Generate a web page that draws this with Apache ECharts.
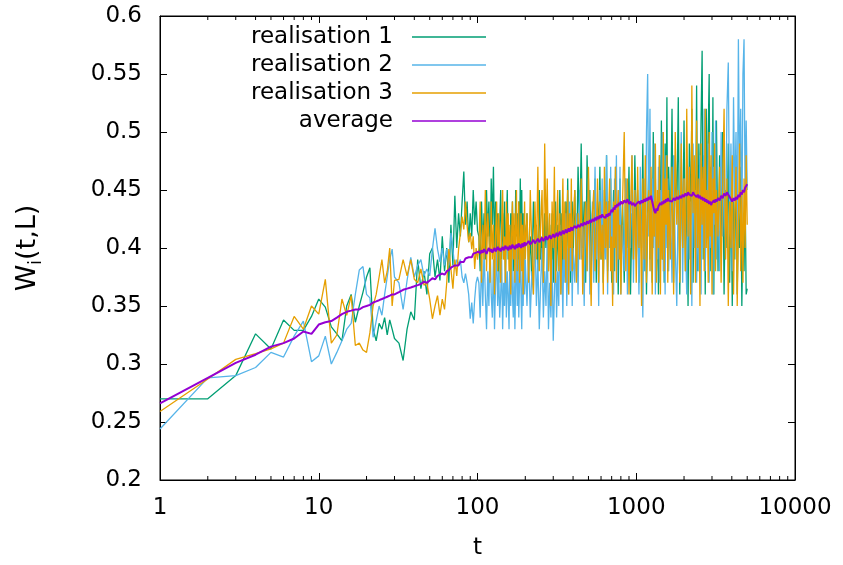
<!DOCTYPE html>
<html>
<head>
<meta charset="utf-8">
<script src="https://cdn.jsdelivr.net/npm/echarts@6/dist/echarts.min.js"></script>
<style>html,body{margin:0;padding:0;background:#fff}#c{width:843px;height:565px}</style>
</head>
<body>
<div id="c"></div>
<script>
// ---- data ----
const tValues = [
1,2,3,4,5,6,7,8,9,10,11,12,13,14,15,16,17,18,19,20,21,22,23,24,25,26,27,28,29,30,
32,34,36,38,40,42,44,46,48,50,52,54,56,58,60,62,64,66,68,70,72,74,76,78,80,82,84,86,88,90,92,94,96,98,100,
102,104,106,108,110,112,114,116,118,120,122,124,126,128,130,132,134,136,138,140,
142,144,146,148,150,152,154,156,158,160,162,164,166,168,170,172,174,176,178,180,
182,184,186,188,190,192,194,196,198,200,
205,210,215,220,225,230,235,240,245,250,255,260,265,270,275,280,285,290,295,300,
305,310,315,320,325,330,335,340,345,350,355,360,365,370,375,380,385,390,395,400,
410,420,430,440,450,460,470,480,490,500,510,520,530,540,550,560,570,580,590,600,
610,620,630,640,650,660,670,680,690,700,710,720,730,740,750,760,770,780,790,800,
820,840,860,880,900,920,940,960,980,1000,1020,1040,1060,1080,1100,1120,1140,1160,1180,1200,
1220,1240,1260,1280,1300,1320,1340,1360,1380,1400,1420,1440,1460,1480,1500,1520,1540,1560,1580,1600,
1640,1680,1720,1760,1800,1840,1880,1920,1960,2000,2040,2080,2120,2160,2200,2240,2280,2320,2360,2400,
2440,2480,2520,2560,2600,2640,2680,2720,2760,2800,2840,2880,2920,2960,3000,3040,3080,3120,3160,3200,
3275,3350,3425,3500,3575,3650,3725,3800,3875,3950,4025,4100,4175,4250,4325,4400,4475,4550,4625,4700,
4775,4850,4925,5000
];

const realisation1 = [
0.270,0.270,0.290,0.326,0.313,0.338,0.329,0.329,0.341,0.356,
0.349,0.332,0.326,0.320,0.350,0.360,0.336,0.350,0.362,0.375,
0.383,0.330,0.320,0.335,0.330,0.340,0.325,0.338,0.330,0.322,
0.318,0.303,0.330,0.345,0.338,0.390,0.365,0.380,0.360,0.395,0.400,0.375,0.390,0.372,0.410,0.380,0.400,0.370,0.420,0.385,0.445,0.400,0.430,0.410,0.440,0.466,0.420,0.440,0.405,0.430,0.410,0.450,0.420,0.440,0.415,
0.41,0.38,0.44,0.40,0.43,0.39,0.45,0.41,0.44,0.38,
0.46,0.42,0.47,0.40,0.44,0.39,0.43,0.37,0.42,0.45,
0.39,0.43,0.40,0.44,0.38,0.42,0.45,0.39,0.41,0.37,
0.43,0.40,0.44,0.38,0.42,0.39,0.45,0.41,0.43,0.38,
0.44,0.40,0.46,0.41,0.45,0.39,0.43,0.38,0.42,0.40,
0.43,0.38,0.41,0.37,0.44,0.40,0.42,0.38,0.45,0.39,
0.41,0.37,0.43,0.40,0.44,0.38,0.42,0.39,0.43,0.37,
0.41,0.44,0.38,0.42,0.39,0.45,0.40,0.43,0.37,0.42,
0.38,0.44,0.40,0.46,0.39,0.43,0.37,0.41,0.44,0.39,
0.45,0.38,0.47,0.41,0.49,0.40,0.44,0.37,0.48,0.42,
0.45,0.38,0.43,0.40,0.46,0.37,0.44,0.41,0.47,0.39,
0.43,0.37,0.45,0.40,0.48,0.38,0.44,0.41,0.46,0.37,
0.42,0.45,0.38,0.47,0.40,0.44,0.36,0.43,0.46,0.39,
0.44,0.37,0.46,0.40,0.47,0.36,0.43,0.39,0.48,0.41,
0.45,0.37,0.44,0.40,0.49,0.38,0.46,0.36,0.43,0.47,
0.39,0.45,0.37,0.50,0.41,0.46,0.38,0.44,0.36,0.48,
0.40,0.51,0.39,0.46,0.37,0.49,0.42,0.53,0.38,0.47,
0.41,0.52,0.37,0.48,0.43,0.53,0.36,0.47,0.40,0.51,
0.38,0.46,0.35,0.49,0.42,0.52,0.37,0.47,0.40,0.54,
0.38,0.49,0.43,0.51,0.57,0.39,0.48,0.36,0.52,0.42,
0.50,0.55,0.38,0.47,0.41,0.53,0.36,0.49,0.43,0.51,
0.38,0.48,0.41,0.50,0.36,0.45,0.40,0.49,0.37,0.46,
0.35,0.44,0.39,0.48,0.36,0.43,0.40,0.47,0.35,0.42,
0.38,0.45,0.36,0.365
];

const realisation2 = [
0.244,0.288,0.290,0.297,0.310,0.306,0.324,0.337,0.302,0.307,
0.324,0.300,0.310,0.320,0.330,0.335,0.360,0.381,0.384,0.360,
0.357,0.323,0.337,0.350,0.342,0.360,0.375,0.390,0.399,0.375,
0.370,0.347,0.372,0.392,0.375,0.385,0.390,0.376,0.382,0.376,0.399,0.417,0.399,0.388,0.400,0.385,0.399,0.385,0.413,0.399,0.382,0.390,0.386,0.390,0.375,0.370,0.378,0.370,0.360,0.339,0.353,0.335,0.356,0.370,0.375,
0.37,0.34,0.39,0.35,0.40,0.36,0.33,0.38,0.35,0.41,
0.36,0.34,0.39,0.33,0.37,0.40,0.35,0.38,0.34,0.36,
0.39,0.33,0.37,0.35,0.40,0.34,0.38,0.36,0.33,0.39,
0.35,0.41,0.36,0.34,0.38,0.33,0.37,0.40,0.35,0.39,
0.34,0.37,0.41,0.36,0.33,0.38,0.35,0.40,0.36,0.39,
0.35,0.40,0.34,0.38,0.36,0.42,0.35,0.39,0.33,0.37,
0.40,0.34,0.38,0.35,0.41,0.33,0.37,0.34,0.39,0.32,
0.36,0.40,0.34,0.38,0.35,0.42,0.36,0.39,0.34,0.41,
0.37,0.43,0.35,0.40,0.36,0.44,0.38,0.42,0.35,0.40,
0.37,0.43,0.36,0.45,0.39,0.42,0.35,0.44,0.38,0.46,
0.36,0.41,0.44,0.37,0.47,0.39,0.43,0.35,0.45,0.40,
0.46,0.37,0.42,0.39,0.48,0.36,0.44,0.40,0.47,0.38,
0.43,0.36,0.46,0.41,0.48,0.37,0.44,0.39,0.47,0.36,
0.42,0.38,0.46,0.36,0.44,0.40,0.48,0.37,0.45,0.39,
0.43,0.36,0.47,0.40,0.34,0.44,0.38,0.50,0.55,0.41,
0.52,0.38,0.46,0.40,0.49,0.36,0.44,0.39,0.47,0.37,
0.45,0.41,0.50,0.38,0.44,0.36,0.48,0.40,0.46,0.38,
0.44,0.37,0.48,0.40,0.35,0.45,0.39,0.50,0.37,0.46,
0.41,0.36,0.47,0.39,0.44,0.35,0.49,0.40,0.45,0.37,
0.43,0.38,0.48,0.36,0.46,0.40,0.52,0.38,0.45,0.41,
0.49,0.37,0.44,0.40,0.50,0.36,0.47,0.42,0.51,0.39,
0.44,0.38,0.50,0.41,0.47,0.39,0.52,0.56,0.42,0.49,
0.38,0.53,0.44,0.50,0.40,0.58,0.46,0.52,0.41,0.55,
0.58,0.44,0.51,0.45
];

const realisation3 = [
0.259,0.287,0.304,0.309,0.313,0.318,0.341,0.330,0.350,0.343,
0.373,0.318,0.325,0.356,0.342,0.359,0.316,0.318,0.312,0.310,
0.327,0.350,0.360,0.375,0.390,0.370,0.380,0.400,0.350,0.372,
0.373,0.390,0.376,0.390,0.373,0.370,0.382,0.368,0.370,0.356,0.339,0.350,0.359,0.342,0.356,0.347,0.370,0.399,0.382,0.365,0.390,0.376,0.399,0.413,0.427,0.416,0.440,0.419,0.405,0.413,0.399,0.410,0.382,0.400,0.390,
0.40,0.44,0.37,0.42,0.39,0.45,0.38,0.43,0.41,0.37,
0.44,0.39,0.42,0.36,0.41,0.44,0.38,0.43,0.40,0.37,
0.42,0.45,0.39,0.41,0.37,0.44,0.40,0.43,0.38,0.42,
0.36,0.41,0.44,0.39,0.43,0.37,0.42,0.45,0.38,0.41,
0.44,0.37,0.40,0.43,0.38,0.42,0.36,0.41,0.44,0.39,
0.43,0.37,0.45,0.40,0.36,0.44,0.39,0.47,0.38,0.42,
0.45,0.37,0.49,0.41,0.46,0.38,0.43,0.35,0.44,0.40,
0.47,0.37,0.42,0.45,0.38,0.43,0.36,0.41,0.46,0.39,
0.44,0.37,0.42,0.45,0.36,0.43,0.40,0.46,0.38,0.42,
0.45,0.37,0.43,0.39,0.46,0.36,0.42,0.44,0.38,0.47,
0.40,0.35,0.43,0.45,0.38,0.41,0.46,0.37,0.44,0.39,
0.42,0.36,0.47,0.40,0.44,0.37,0.43,0.46,0.38,0.41,
0.35,0.44,0.40,0.47,0.37,0.43,0.45,0.39,0.42,0.36,
0.44,0.50,0.38,0.46,0.36,0.43,0.48,0.39,0.45,0.37,
0.47,0.40,0.44,0.35,0.46,0.39,0.48,0.37,0.43,0.45,
0.38,0.47,0.36,0.44,0.41,0.49,0.37,0.45,0.40,0.48,
0.36,0.44,0.39,0.50,0.38,0.46,0.42,0.48,0.37,0.45,
0.39,0.47,0.36,0.50,0.42,0.45,0.37,0.49,0.40,0.46,
0.38,0.52,0.41,0.47,0.36,0.54,0.43,0.48,0.37,0.51,
0.40,0.46,0.35,0.49,0.42,0.47,0.38,0.52,0.40,0.45,
0.37,0.50,0.41,0.48,0.36,0.46,0.43,0.49,0.38,0.45,
0.41,0.47,0.37,0.45,0.52,0.39,0.46,0.35,0.44,0.40,
0.48,0.36,0.43,0.47,0.35,0.42,0.49,0.38,0.45,0.37,
0.46,0.40,0.48,0.42
];

const average = [
0.266,0.288,0.301,0.308,0.315,0.318,0.322,0.328,0.326,0.334,
0.336,0.337,0.340,0.343,0.345,0.346,0.347,0.347,0.349,0.350,
0.351,0.353,0.354,0.355,0.356,0.357,0.358,0.359,0.360,0.360,
0.362,0.364,0.365,0.366,0.367,0.368,0.369,0.371,0.370,0.372,0.374,0.373,0.376,0.377,0.378,0.377,0.380,0.381,0.383,0.382,0.385,0.386,0.385,0.388,0.389,0.388,0.391,0.390,0.392,0.393,0.392,0.395,0.394,0.396,0.395,
0.397,0.395,0.398,0.396,0.399,0.397,0.395,0.398,0.400,0.397,
0.399,0.396,0.398,0.400,0.397,0.399,0.401,0.398,0.400,0.397,
0.399,0.401,0.398,0.400,0.402,0.399,0.401,0.398,0.400,0.402,
0.399,0.401,0.403,0.400,0.402,0.399,0.401,0.403,0.400,0.402,
0.404,0.401,0.403,0.400,0.402,0.404,0.401,0.403,0.405,0.402,
0.404,0.406,0.403,0.405,0.407,0.404,0.406,0.408,0.405,0.407,
0.409,0.406,0.408,0.410,0.407,0.409,0.411,0.408,0.410,0.412,
0.409,0.411,0.413,0.410,0.412,0.414,0.411,0.413,0.415,0.412,
0.414,0.416,0.413,0.415,0.417,0.414,0.416,0.418,0.415,0.417,
0.419,0.417,0.420,0.418,0.421,0.419,0.422,0.420,0.423,0.421,
0.424,0.422,0.425,0.423,0.426,0.424,0.427,0.425,0.428,0.426,
0.429,0.427,0.428,0.426,0.429,0.427,0.430,0.428,0.431,0.433,
0.431,0.435,0.433,0.437,0.435,0.438,0.436,0.439,0.437,0.440,
0.438,0.441,0.439,0.442,0.438,0.440,0.437,0.439,0.436,0.438,
0.437,0.440,0.438,0.441,0.439,0.442,0.440,0.443,0.441,0.444,
0.442,0.445,0.440,0.436,0.432,0.430,0.434,0.432,0.436,0.435,
0.439,0.437,0.440,0.438,0.441,0.439,0.442,0.440,0.443,0.441,
0.442,0.440,0.443,0.441,0.444,0.442,0.445,0.443,0.446,0.444,
0.447,0.445,0.448,0.446,0.447,0.445,0.448,0.446,0.447,0.444,
0.446,0.443,0.445,0.442,0.444,0.441,0.443,0.440,0.442,0.439,
0.441,0.438,0.440,0.437,0.439,0.438,0.441,0.439,0.442,0.440,
0.443,0.441,0.445,0.443,0.447,0.445,0.448,0.446,0.444,0.442,
0.440,0.443,0.441,0.444,0.442,0.446,0.444,0.448,0.446,0.450,
0.448,0.452,0.451,0.455
];

const seriesNames = ['realisation 1','realisation 2','realisation 3','average'];
const seriesColors = ['#009e73','#56b4e9','#e69f00','#9400d3'];
const xTickLabels = ['1','10','100','1000','10000'];
const minorTickValues = [2,3,4,5,6,7,8,9,20,30,40,50,60,70,80,90,200,300,400,500,600,700,800,900,2000,3000,4000,5000,6000,7000,8000,9000];

// ---- chart ----
const FONT = 'DejaVu Sans, Liberation Sans, sans-serif';
const allSeries = [realisation1, realisation2, realisation3, average];
allSeries.forEach((a, i) => { if (a.length !== tValues.length) console.error('length mismatch', i, a.length, tValues.length); });
const pairs = arr => tValues.map((t, i) => [t, arr[i]]).filter(p => p[1] !== undefined);

const chart = echarts.init(document.getElementById('c'), null, {renderer: 'canvas'});

const lineSeries = allSeries.map((arr, i) => ({
  name: seriesNames[i],
  type: 'line',
  data: pairs(arr),
  symbol: 'none',
  showSymbol: false,
  lineStyle: {color: seriesColors[i], width: i === 3 ? 2 : 1.3},
  itemStyle: {color: seriesColors[i]},
  emphasis: {disabled: true},
  xAxisIndex: 0,
  yAxisIndex: 0,
  z: 2 + i
}));

const tickSeries = {
  type: 'custom',
  silent: true,
  xAxisIndex: 0,
  yAxisIndex: 0,
  z: 10,
  clip: false,
  data: minorTickValues.map(v => [v, 0.2]),
  encode: {x: 0, y: 1},
  renderItem: (params, api) => {
    const t = api.value(0);
    const b = api.coord([t, 0.2]);
    const tp = api.coord([t, 0.6]);
    return {
      type: 'group',
      children: [
        {type: 'line', shape: {x1: b[0], y1: b[1], x2: b[0], y2: b[1] - 4}, style: {stroke: '#000', lineWidth: 1}},
        {type: 'line', shape: {x1: tp[0], y1: tp[1], x2: tp[0], y2: tp[1] + 4}, style: {stroke: '#000', lineWidth: 1}}
      ]
    };
  }
};

const axisLineStyle = {show: true, onZero: false, lineStyle: {color: '#000', width: 1}};
const majorTick = {show: true, inside: true, length: 7, lineStyle: {color: '#000', width: 1}};

const option = {
  animation: false,
  backgroundColor: '#fff',
  grid: {left: 160, right: 48, top: 16, bottom: 84, show: true, borderColor: '#000', borderWidth: 1},
  legend: {
    data: seriesNames,
    orient: 'vertical',
    right: 352,
    top: 20,
    align: 'right',
    icon: 'rect',
    itemWidth: 74,
    itemHeight: 1.5,
    itemGap: 4,
    textStyle: {fontSize: 23, fontFamily: FONT, color: '#000', lineHeight: 24, padding: [0, 14, 0, 0]}
  },
  xAxis: [
    {
      type: 'log', logBase: 10, min: 1, max: 10000, position: 'bottom',
      name: 't', nameLocation: 'middle', nameGap: 57,
      nameTextStyle: {fontSize: 23, fontFamily: FONT, color: '#000'},
      axisLine: axisLineStyle,
      axisTick: majorTick,
      axisLabel: {fontSize: 23, fontFamily: FONT, color: '#000', margin: 17,
        formatter: v => xTickLabels[Math.round(Math.log10(v))]},
      splitLine: {show: false}, minorTick: {show: false}
    },
    {
      type: 'log', logBase: 10, min: 1, max: 10000, position: 'top',
      axisLine: axisLineStyle,
      axisTick: majorTick,
      axisLabel: {show: false},
      splitLine: {show: false}
    }
  ],
  yAxis: [
    {
      type: 'value', min: 0.2, max: 0.6, interval: 0.05, position: 'left',
      name: '{a|W}{b|i}{a|(t,L)}', nameLocation: 'middle', nameRotate: 90, nameGap: 115,
      nameTextStyle: {
        rich: {
          a: {fontSize: 27, fontFamily: FONT, color: '#000'},
          b: {fontSize: 17, fontFamily: FONT, color: '#000', padding: [18, 0, 0, 0]}
        }
      },
      axisLine: axisLineStyle,
      axisTick: majorTick,
      axisLabel: {fontSize: 23, fontFamily: FONT, color: '#000', margin: 18,
        formatter: v => String(+v.toFixed(2))},
      splitLine: {show: false}
    },
    {
      type: 'value', min: 0.2, max: 0.6, interval: 0.05, position: 'right',
      axisLine: axisLineStyle,
      axisTick: majorTick,
      axisLabel: {show: false},
      splitLine: {show: false}
    }
  ],
  series: [...lineSeries, tickSeries]
};

chart.setOption(option);
</script>
</body>
</html>
